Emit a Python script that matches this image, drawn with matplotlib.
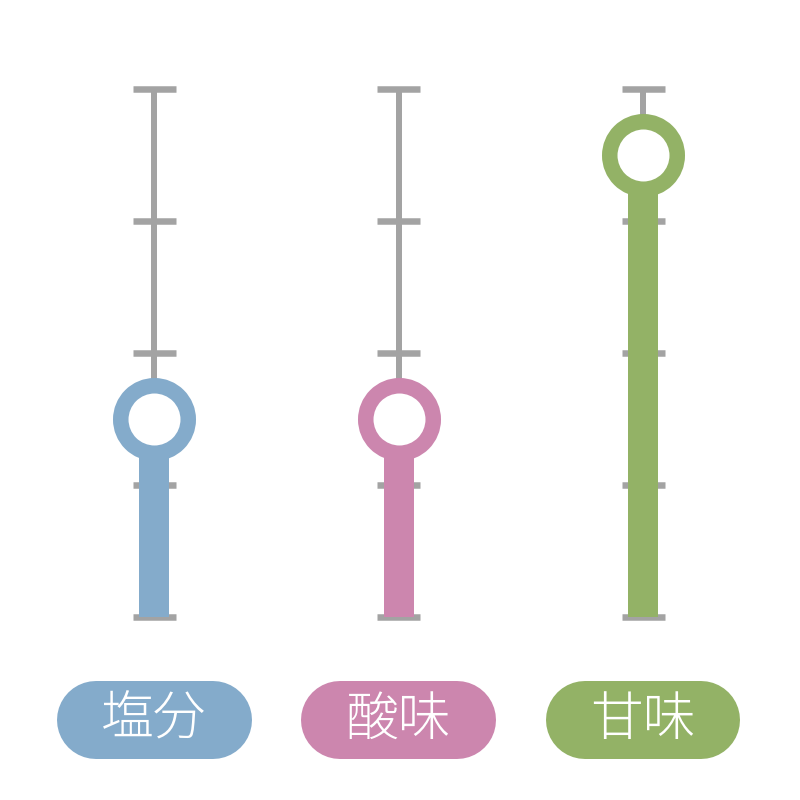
import matplotlib
matplotlib.use("Agg")
import matplotlib.pyplot as plt

plt.rcParams['font.family'] = ['Noto Sans CJK JP', 'DejaVu Sans']

# data
labels = ['塩分', '酸味', '甘味']
values = [1.5, 1.5, 3.5]
colors = ['#84abcb', '#cc86ae', '#93b266']
scale_ticks = [0, 1, 2, 3, 4]
scale_max = 4

GRAY = '#a3a3a3'
DPI = 100
W = H = 800

# pixel geometry of the gauges
x0_px, dx_px = 154, 244.5        # centre of first gauge, spacing
y0_px, ytop_px = 617, 89         # pixel row of 0 and of max (from top)
ux = 1 / dx_px                                  # x data units per px
uy = scale_max / (y0_px - ytop_px)              # y data units per px

fig = plt.figure(figsize=(W / DPI, H / DPI), dpi=DPI)
ax = fig.add_axes([0, 0, 1, 1])
ax.set_xlim(-x0_px * ux, (W - x0_px) * ux)
ax.set_ylim(-(H - y0_px) * uy, scale_max + ytop_px * uy)
ax.axis('off')

px2pt = 72 / DPI

for i, (lab, v, c) in enumerate(zip(labels, values, colors)):
    # gray scale stem and ticks
    ax.plot([i, i], [0, scale_max], color=GRAY, lw=6 * px2pt,
            solid_capstyle='butt', zorder=1)
    ax.hlines(scale_ticks, i - 21.5 * ux, i + 21.5 * ux, color=GRAY,
              lw=6.5 * px2pt, zorder=1)
    # value bar
    ax.bar(i, v, width=30 * ux, color=c, zorder=2)
    # ring marker
    ax.plot(i, v, marker='o', ms=67.5 * px2pt, mew=15.5 * px2pt,
            mfc='white', mec=c, zorder=3)
    # label pill (thick line with round caps)
    yl = -(720 - y0_px) * uy
    half = (195 - 78) / 2 * ux
    ax.plot([i - half, i + half], [yl, yl], color=c, lw=78 * px2pt,
            solid_capstyle='round', zorder=2)
    ax.text(i, yl, lab, color='white', fontsize=38, ha='center',
            va='center', fontweight='light', zorder=4)

fig.savefig('out.png', dpi=DPI, facecolor='white')
